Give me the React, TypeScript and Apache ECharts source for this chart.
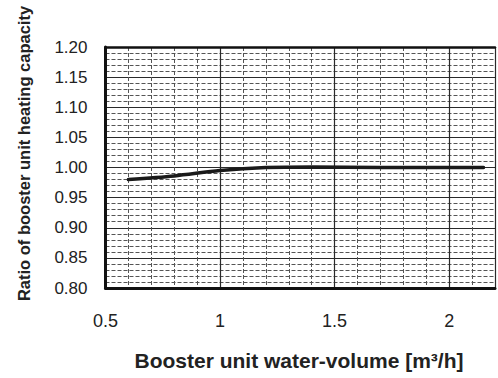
import React, { useEffect, useRef } from "react";
import * as echarts from "echarts";

const xTicks = [0.5, 1, 1.5, 2];
const yTicks = [0.8, 0.85, 0.9, 0.95, 1.0, 1.05, 1.1, 1.15, 1.2];
const waterVolume = [0.6, 0.8, 1.0, 1.2, 1.4, 1.7, 2.15];
const capacityRatio = [0.98, 0.986, 0.995, 1.0, 1.001, 1.0, 1.0];

const xTitle = "Booster unit water-volume [m³/h]";
const yTitle = "Ratio of booster unit heating capacity";

export default function App() {
  const ref = useRef<HTMLDivElement>(null);
  useEffect(() => {
    if (!ref.current) return;
    const chart = echarts.init(ref.current, null, { renderer: "svg" });
    const font = "Liberation Sans, Arial, sans-serif";
    const majorLine = { show: true, lineStyle: { color: "#2a2a2a", width: 1.2, type: "solid" as const } };
    const minorLine = { show: true, lineStyle: { color: "#555", width: 1, type: [4, 2] as any } };
    chart.setOption({
      animation: false,
      backgroundColor: "#fff",
      grid: { left: 105.5, right: -2, top: 47, bottom: 90, containLabel: false },
      xAxis: [
        {
          type: "value",
          min: xTicks[0],
          max: 2.2,
          interval: 0.5,
          axisLine: { show: true, lineStyle: { color: "#111", width: 3 } },
          axisTick: { show: false },
          axisLabel: {
            margin: 24,
            fontFamily: font,
            fontSize: 18,
            color: "#222",
            formatter: (v: number) => {
              const hit = xTicks.find((t) => Math.abs(t - v) < 1e-6);
              return hit !== undefined ? String(hit) : "";
            },
          },
          splitLine: majorLine,
          minorTick: { show: false, splitNumber: 5 },
          minorSplitLine: minorLine,
        },
        {
          type: "value",
          position: "top",
          min: xTicks[0],
          max: 2.2,
          interval: 0.5,
          axisLine: { show: true, onZero: false, lineStyle: { color: "#111", width: 2.5 } },
          axisTick: { show: false },
          axisLabel: { show: false },
          splitLine: { show: false },
        },
      ],
      yAxis: {
        type: "value",
        min: yTicks[0],
        max: yTicks[yTicks.length - 1],
        interval: 0.05,
        axisLine: { show: true, lineStyle: { color: "#111", width: 3 } },
        axisTick: { show: false },
        axisLabel: {
          margin: 18,
          fontFamily: font,
          fontSize: 17,
          color: "#222",
          formatter: (v: number) => v.toFixed(2),
        },
        splitLine: majorLine,
        minorTick: { show: false, splitNumber: 5 },
        minorSplitLine: minorLine,
      },
      series: [
        {
          type: "line",
          xAxisIndex: 0,
          data: waterVolume.map((x, i) => [x, capacityRatio[i]]),
          smooth: 0.3,
          showSymbol: false,
          lineStyle: { color: "#1a1a1a", width: 3.5, cap: "round" },
        },
      ],
      graphic: [
        {
          type: "text",
          x: 299,
          y: 360,
          style: {
            text: xTitle,
            fontFamily: font,
            fontWeight: "bold",
            fontSize: 21,
            fill: "#222",
            align: "center",
            verticalAlign: "middle",
          },
        },
        {
          type: "text",
          x: 23.5,
          y: 153.5,
          rotation: Math.PI / 2,
          style: {
            text: yTitle,
            fontFamily: font,
            fontWeight: "bold",
            fontSize: 16.5,
            fill: "#222",
            align: "center",
            verticalAlign: "middle",
          },
        },
      ],
    });
    return () => chart.dispose();
  }, []);
  return (
    <div
      ref={ref}
      style={{ position: "fixed", left: 0, top: 0, width: 498, height: 378, overflow: "hidden", background: "#fff" }}
    />
  );
}
